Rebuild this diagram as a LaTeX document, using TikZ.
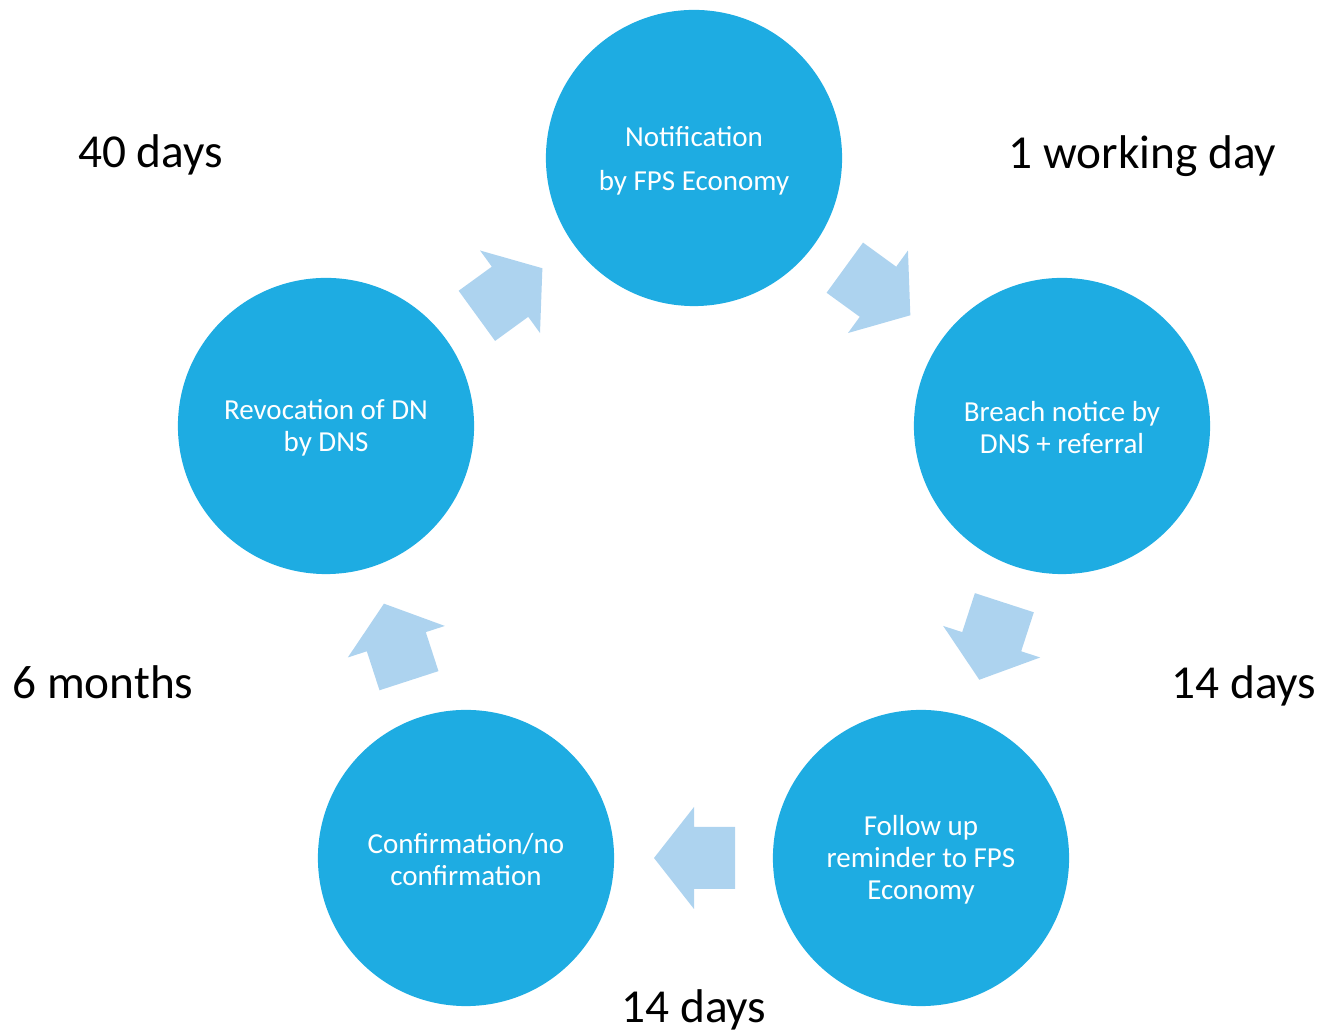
\documentclass[tikz,border=0pt]{standalone}
\usepackage{fontspec}
\setmainfont{Carlito}
\definecolor{circblue}{RGB}{30,172,226}
\definecolor{arrblue}{RGB}{173,211,239}
\begin{document}
\begin{tikzpicture}[x=0.01cm,y=0.01cm,
  stepcircle/.style={circle, fill=circblue, draw=none, minimum size=2.96cm, inner sep=0pt},
  circtext/.style={text=white, align=center, inner sep=0pt, font=\fontsize{8.25}{9.1}\selectfont},
  timelabel/.style={anchor=base, inner sep=0pt, font=\fontsize{13.45}{15}\selectfont},
  blockarrow/.style={fill=arrblue, draw=none}]
\useasboundingbox (0,0) rectangle (1321,1031);
% circles
\node[stepcircle] (notif) at (694,873) {};
\node[stepcircle] (breach) at (1062,605) {};
\node[stepcircle] (follow) at (921,173) {};
\node[stepcircle] (confirm) at (466,173) {};
\node[stepcircle] (revoc) at (326,605) {};
% circle texts
\node[circtext, font=\fontsize{8.25}{12.6}\selectfont] (notif-t) at ([yshift=-0.025cm]notif.center) {Notification\\by FPS Economy};
\node[circtext] (breach-t) at ([yshift=-0.02cm]breach.center) {Breach notice by\\DNS + referral};
\node[circtext] (follow-t) at ([yshift=-0.02cm]follow.center) {Follow up\\reminder to FPS\\Economy};
\node[circtext] (confirm-t) at ([yshift=-0.02cm]confirm.center) {Confirmation/no\\confirmation};
\node[circtext] (revoc-t) at ([yshift=-0.02cm]revoc.center) {Revocation of DN\\by DNS};
% block arrows
\foreach \a in {54,-18,-90,198,126}{
  \fill[blockarrow, shift={(694,486)}, rotate=\a]
    (282,41) -- (344,41) -- (344,0) -- (364,0) -- (313,-40) -- (262,0) -- (282,0) -- cycle;
}
% time labels
\node[timelabel] (t40) at (150.5,863) {40 days};
\node[timelabel] (t1) at (1142.5,862) {1 working day};
\node[timelabel] (t6) at (103,332) {6 months};
\node[timelabel] (t14r) at (1244,332) {14 days};
\node[timelabel] (t14b) at (694,8) {14 days};
\end{tikzpicture}
\end{document}
